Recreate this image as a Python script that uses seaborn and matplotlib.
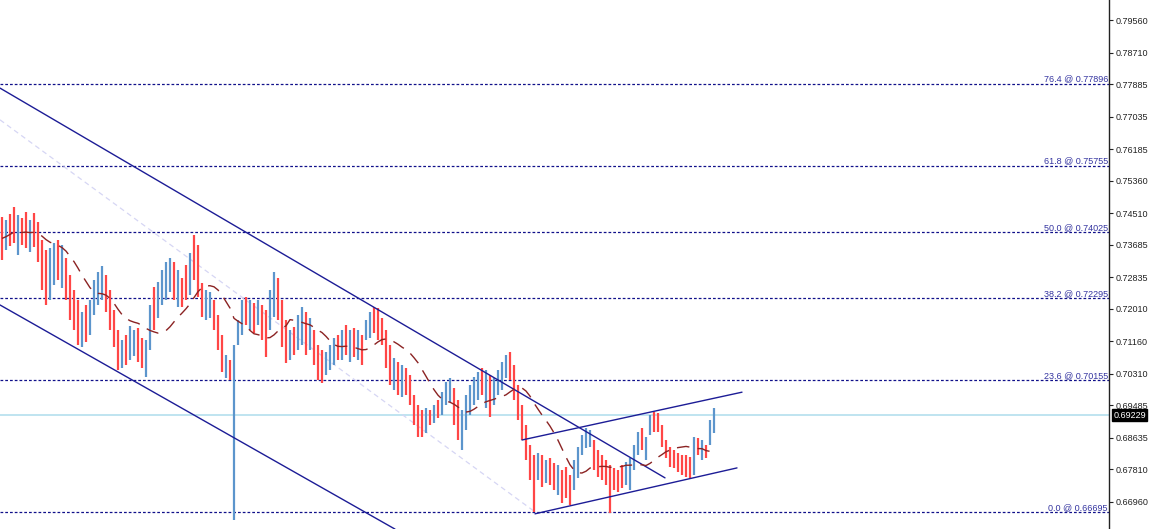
import numpy as np
import pandas as pd
import seaborn as sns
import matplotlib.pyplot as plt

# bar highs / lows (one bar every ~4 px)
highs = [
    0.7441, 0.7433, 0.7449, 0.7467, 0.7446, 0.7438, 0.7454, 0.7433, 0.7451, 0.7428,
    0.7381, 0.7355, 0.7360, 0.7373, 0.7381, 0.7368, 0.7334, 0.7289, 0.7250, 0.7224,
    0.7193, 0.7211, 0.7224, 0.7276, 0.7297, 0.7313, 0.7289, 0.7250, 0.7198, 0.7146,
    0.7120, 0.7133, 0.7156, 0.7146, 0.7151, 0.7125, 0.7120, 0.7211, 0.7258, 0.7271,
    0.7302, 0.7324, 0.7334, 0.7324, 0.7302, 0.7281, 0.7316, 0.7347, 0.7394, 0.7368,
    0.7268, 0.7250, 0.7245, 0.7224, 0.7185, 0.7133, 0.7080, 0.7067, 0.7107, 0.7172,
    0.7224, 0.7232, 0.7224, 0.7216, 0.7224, 0.7211, 0.7198, 0.7250, 0.7297, 0.7281,
    0.7224, 0.7172, 0.7146, 0.7154, 0.7185, 0.7206, 0.7193, 0.7177, 0.7146, 0.7107,
    0.7094, 0.7089, 0.7107, 0.7125, 0.7133, 0.7146, 0.7159, 0.7146, 0.7151, 0.7146,
    0.7133, 0.7172, 0.7193, 0.7206, 0.7203, 0.7177, 0.7146, 0.7107, 0.7072, 0.7062,
    0.7054, 0.7046, 0.7028, 0.6976, 0.6950, 0.6937, 0.6942, 0.6937, 0.6950, 0.6963,
    0.6984, 0.7010, 0.7020, 0.6994, 0.6963, 0.6937, 0.6976, 0.7002, 0.7023, 0.7036,
    0.7046, 0.7041, 0.7028, 0.7020, 0.7041, 0.7062, 0.7080, 0.7089, 0.7054, 0.7002,
    0.6950, 0.6898, 0.6845, 0.6819, 0.6824, 0.6819, 0.6806, 0.6811, 0.6798, 0.6793,
    0.6780, 0.6788, 0.6767, 0.6806, 0.6840, 0.6872, 0.6890, 0.6885, 0.6858, 0.6832,
    0.6819, 0.6806, 0.6793, 0.6785, 0.6780, 0.6793, 0.6801, 0.6811, 0.6845, 0.6880,
    0.6890, 0.6866, 0.6924, 0.6932, 0.6929, 0.6898, 0.6858, 0.6840, 0.6832, 0.6824,
    0.6819, 0.6819, 0.6814, 0.6866, 0.6864, 0.6858, 0.6845, 0.6911, 0.6942,
]
lows = [
    0.7329, 0.7355, 0.7365, 0.7373, 0.7342, 0.7368, 0.7360, 0.7350, 0.7363, 0.7324,
    0.7250, 0.7211, 0.7224, 0.7263, 0.7276, 0.7255, 0.7224, 0.7172, 0.7146, 0.7107,
    0.7102, 0.7115, 0.7133, 0.7185, 0.7211, 0.7224, 0.7193, 0.7146, 0.7102, 0.7041,
    0.7046, 0.7054, 0.7067, 0.7078, 0.7062, 0.7046, 0.7023, 0.7094, 0.7146, 0.7177,
    0.7211, 0.7224, 0.7245, 0.7224, 0.7206, 0.7206, 0.7224, 0.7237, 0.7276, 0.7232,
    0.7180, 0.7172, 0.7177, 0.7146, 0.7094, 0.7036, 0.7020, 0.7015, 0.6649, 0.7107,
    0.7133, 0.7159, 0.7146, 0.7138, 0.7159, 0.7120, 0.7075, 0.7146, 0.7180, 0.7172,
    0.7102, 0.7059, 0.7067, 0.7080, 0.7094, 0.7107, 0.7080, 0.7094, 0.7054, 0.7015,
    0.7007, 0.7028, 0.7041, 0.7054, 0.7067, 0.7067, 0.7080, 0.7062, 0.7075, 0.7067,
    0.7054, 0.7120, 0.7125, 0.7138, 0.7120, 0.7107, 0.7046, 0.7002, 0.6989, 0.6976,
    0.6971, 0.6976, 0.6950, 0.6898, 0.6866, 0.6866, 0.6877, 0.6898, 0.6903, 0.6916,
    0.6924, 0.6950, 0.6958, 0.6898, 0.6858, 0.6832, 0.6885, 0.6924, 0.6950, 0.6963,
    0.6976, 0.6942, 0.6919, 0.6950, 0.6976, 0.6989, 0.7020, 0.7015, 0.6963, 0.6911,
    0.6858, 0.6806, 0.6754, 0.6670, 0.6754, 0.6736, 0.6746, 0.6741, 0.6728, 0.6715,
    0.6694, 0.6707, 0.6689, 0.6728, 0.6759, 0.6819, 0.6837, 0.6840, 0.6780, 0.6762,
    0.6754, 0.6741, 0.6668, 0.6728, 0.6723, 0.6733, 0.6741, 0.6728, 0.6780, 0.6819,
    0.6832, 0.6806, 0.6872, 0.6880, 0.6880, 0.6840, 0.6811, 0.6788, 0.6785, 0.6775,
    0.6767, 0.6762, 0.6759, 0.6767, 0.6819, 0.6806, 0.6811, 0.6845, 0.6877,
]
# u = up bar (blue), d = down bar (red), ten bars per chunk
direction_chunks = [
    "dudduddudd", "dduududddd", "uduuuudddd", "uduudduudu", "uuududdudd",
    "duuddduduu", "udududduud", "dduduududd", "duuudududu", "duudddddud",
    "udddddudud", "uuudduuuuu", "duduuuuddd", "ddddududdu", "ddduuuuudd",
    "dddddduuuu", "duuddddddd", "dddududuu",
]
directions = list("".join(direction_chunks))

current_price = 0.69229
fib_pcts = ["76.4", "61.8", "50.0", "38.2", "23.6", "0.0"]
fib_prices = [0.77896, 0.75755, 0.74025, 0.72295, 0.70155, 0.66695]
axis_ticks = [0.79560, 0.78710, 0.77885, 0.77035, 0.76185, 0.75360, 0.74510, 0.73685,
              0.72835, 0.72010, 0.71160, 0.70310, 0.69485, 0.68635, 0.67810, 0.66960]

# trend lines as (bar index, price) pairs
channel_top = [(-0.5, 0.7778), (165.75, 0.6759)]
channel_bottom = [(-0.5, 0.7211), (98.25, 0.6625)]
fib_trend = [(-0.5, 0.7695), (133.25, 0.6670)]
rising_top = [(130.0, 0.6858), (185.0, 0.6983)]
rising_bottom = [(133.25, 0.6665), (183.75, 0.6785)]

bars = pd.DataFrame({"high": highs, "low": lows, "dir": directions})
bars["idx"] = np.arange(len(bars))
bars["ma"] = ((bars["high"] + bars["low"]) / 2).rolling(14, min_periods=1).mean()

sns.set_style("white")
plt.rcParams["font.family"] = ["Liberation Sans", "DejaVu Sans"]

fig = plt.figure(figsize=(11.6, 5.29), dpi=100)
ax = fig.add_axes([0, 0, 1109 / 1160, 1])

ax.axhline(current_price, color="#bfe4f0", lw=1.4, zorder=1)

for p in fib_prices:
    ax.axhline(p, color="#10108a", lw=0.9, ls=(0, (2.2, 1.6)), zorder=2)
for pct, p in zip(fib_pcts, fib_prices):
    ax.text(0.999, p, f"{pct} @ {p:.5f}", transform=ax.get_yaxis_transform(),
            ha="right", va="bottom", fontsize=6.5, color="#3434a0")

ax.plot(*zip(*fib_trend), color="#d6d6f4", lw=0.9, ls=(0, (4, 3)), zorder=2)
for line in (channel_top, channel_bottom, rising_top, rising_bottom):
    ax.plot(*zip(*line), color="#1c1c96", lw=1.0, zorder=4)

colors = {"u": "#5c95cc", "d": "#ff4646"}
for d, grp in bars.groupby("dir"):
    ax.vlines(grp["idx"], grp["low"], grp["high"], color=colors[d], lw=1.6, zorder=3)

sns.lineplot(data=bars, x="idx", y="ma", ax=ax, color="#8b2323", lw=1.0,
             dashes=False, zorder=5)
ax.lines[-1].set_linestyle((0, (9, 6)))

ax.set_xlim(-0.5, 276.75)
ax.set_ylim(0.66253, 0.80083)
ax.set_xlabel("")
ax.set_ylabel("")
ax.set_xticks([])
ax.yaxis.tick_right()
ax.set_yticks(axis_ticks)
ax.set_yticklabels([f"{t:.5f}" for t in axis_ticks])
ax.tick_params(axis="y", right=True, length=3, width=0.8, pad=2,
               labelsize=6.5, labelcolor="#222222", color="#222222")
for side in ("top", "left", "bottom"):
    ax.spines[side].set_visible(False)
ax.spines["right"].set_color("#222222")
ax.spines["right"].set_linewidth(1.0)

ax.text(1.004, current_price, f"{current_price:.5f}", transform=ax.get_yaxis_transform(),
        ha="left", va="center", fontsize=6.5, color="white", clip_on=False,
        bbox=dict(boxstyle="square,pad=0.15", fc="black", ec="black"))

fig.savefig("out.png", dpi=100)
